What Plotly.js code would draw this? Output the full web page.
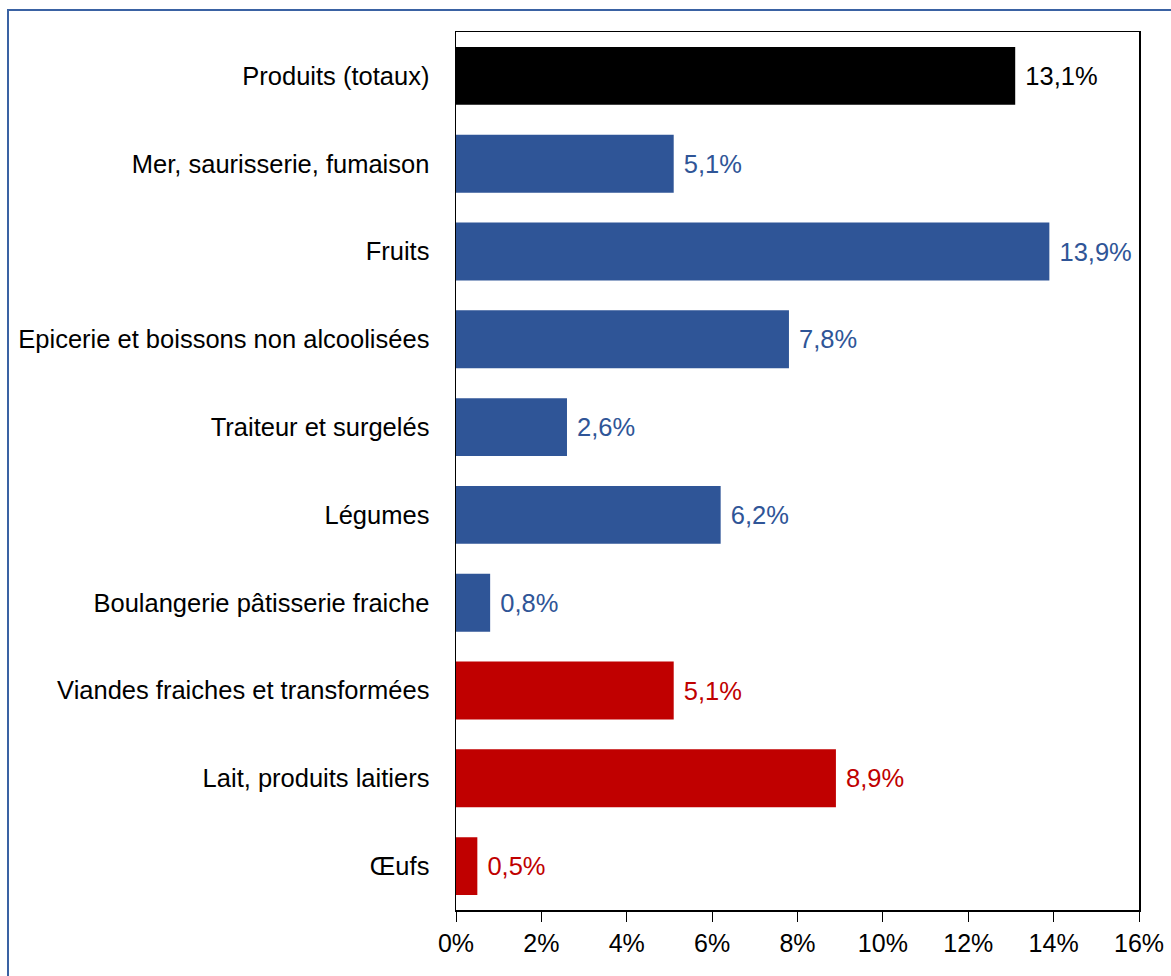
<!DOCTYPE html>
<html><head><meta charset="utf-8">
<script src="https://cdn.plot.ly/plotly-3.0.1.min.js"></script>
<style>
html,body{margin:0;padding:0;background:#fff;overflow:hidden;}
#chart{position:absolute;left:0;top:0;width:1171px;height:976px;}
#frame{position:absolute;left:7px;top:9px;width:1300px;height:1100px;border:2px solid #3a62a3;pointer-events:none;}
</style></head>
<body>
<div id="chart"></div>
<div id="frame"></div>
<script>
var categories = ["Produits (totaux)","Mer, saurisserie, fumaison","Fruits","Epicerie et boissons non alcoolisées","Traiteur et surgelés","Légumes","Boulangerie pâtisserie fraiche","Viandes fraiches et transformées","Lait, produits laitiers","Œufs"];
var values = [13.1,5.1,13.9,7.8,2.6,6.2,0.8,5.1,8.9,0.5];
var groups = ["total","blue","blue","blue","blue","blue","blue","red","red","red"];
var xTicks = [0,2,4,6,8,10,12,14,16];
var xTickLabels = ["0%","2%","4%","6%","8%","10%","12%","14%","16%"];

var palette = {total:"#000000", blue:"#2f5597", red:"#c00000"};
var colors = groups.map(function(g){return palette[g];});
var labels = values.map(function(v){return " " + v.toFixed(1).replace(".", ",") + "%";});
var FONT = "'Liberation Sans Narrow','Arial Narrow','Liberation Sans',Arial,sans-serif";

var trace = {
  type:"bar", orientation:"h",
  y:categories, x:values,
  marker:{color:colors, line:{width:0}},
  text:labels, textposition:"outside", cliponaxis:false,
  textfont:{family:FONT, size:25.5, color:colors},
  hoverinfo:"none"
};
var layout = {
  width:1171, height:976,
  margin:{l:456, r:32, t:32, b:66},
  paper_bgcolor:"rgba(0,0,0,0)", plot_bgcolor:"#fff",
  showlegend:false, bargap:0.34,
  font:{family:FONT, size:25.5, color:"#000"},
  xaxis:{range:[0,16], tickvals:xTicks, ticktext:xTickLabels, showgrid:false, zeroline:false,
         showline:true, linecolor:"#000", linewidth:1.5, mirror:true,
         ticks:"outside", ticklen:10, tickcolor:"#000", tickwidth:1,
         tickfont:{family:FONT, size:25, color:"#000"}},
  yaxis:{autorange:"reversed", showgrid:false, zeroline:false,
         showline:true, linecolor:"#000", linewidth:1.5, mirror:true,
         ticks:"", ticklabelstandoff:20,
         tickfont:{family:FONT, size:25.5, color:"#000"}}
};
Plotly.newPlot("chart",[trace],layout,{staticPlot:true});
</script>
</body></html>
